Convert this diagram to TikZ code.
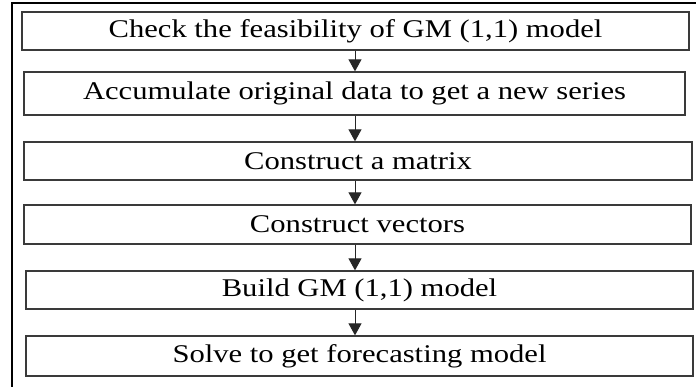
\documentclass[tikz,border=0pt]{standalone}
\usepackage{fontspec}
\setmainfont{Liberation Serif}[FakeStretch=1.2]
\usetikzlibrary{arrows.meta}
\definecolor{boxgray}{HTML}{3A3A3A}
\begin{document}
\begin{tikzpicture}[x=1pt,y=-1pt,
  box/.style={draw=boxgray, line width=1.3pt, inner sep=0pt, text=black,
    font=\fontsize{25.5}{28}\selectfont},
  link/.style={-{Triangle[length=12pt,width=13pt]}, line width=1pt, draw=black!85, fill=black!85}]
\useasboundingbox (0,0) rectangle (696,387);
\draw[line width=1.3pt] (700,3) -- (12,3) -- (12,390);
\node[box, minimum width=667pt, minimum height=38pt] (b1) at (355.5,31) {Check the feasibility of GM (1,1) model};
\node[box, minimum width=661pt, minimum height=43pt] (b2) at (354.5,93.5) {Accumulate original data to get a new series};
\node[box, minimum width=668pt, minimum height=38pt] (b3) at (358,161) {Construct a matrix};
\node[box, minimum width=667pt, minimum height=39pt] (b4) at (357.5,224.5) {Construct vectors};
\node[box, minimum width=667pt, minimum height=38pt] (b5) at (359.5,290) {Build GM (1,1) model};
\node[box, minimum width=667pt, minimum height=40pt] (b6) at (359.5,356) {Solve to get forecasting model};
\coordinate (ax) at (355,0);
\draw[link] (b1.south -| ax) -- (b2.north -| ax);
\draw[link] (b2.south -| ax) -- (b3.north -| ax);
\draw[link] (b3.south -| ax) -- (b4.north -| ax);
\draw[link] (b4.south -| ax) -- (b5.north -| ax);
\draw[link] (b5.south -| ax) -- (b6.north -| ax);
\end{tikzpicture}
\end{document}
